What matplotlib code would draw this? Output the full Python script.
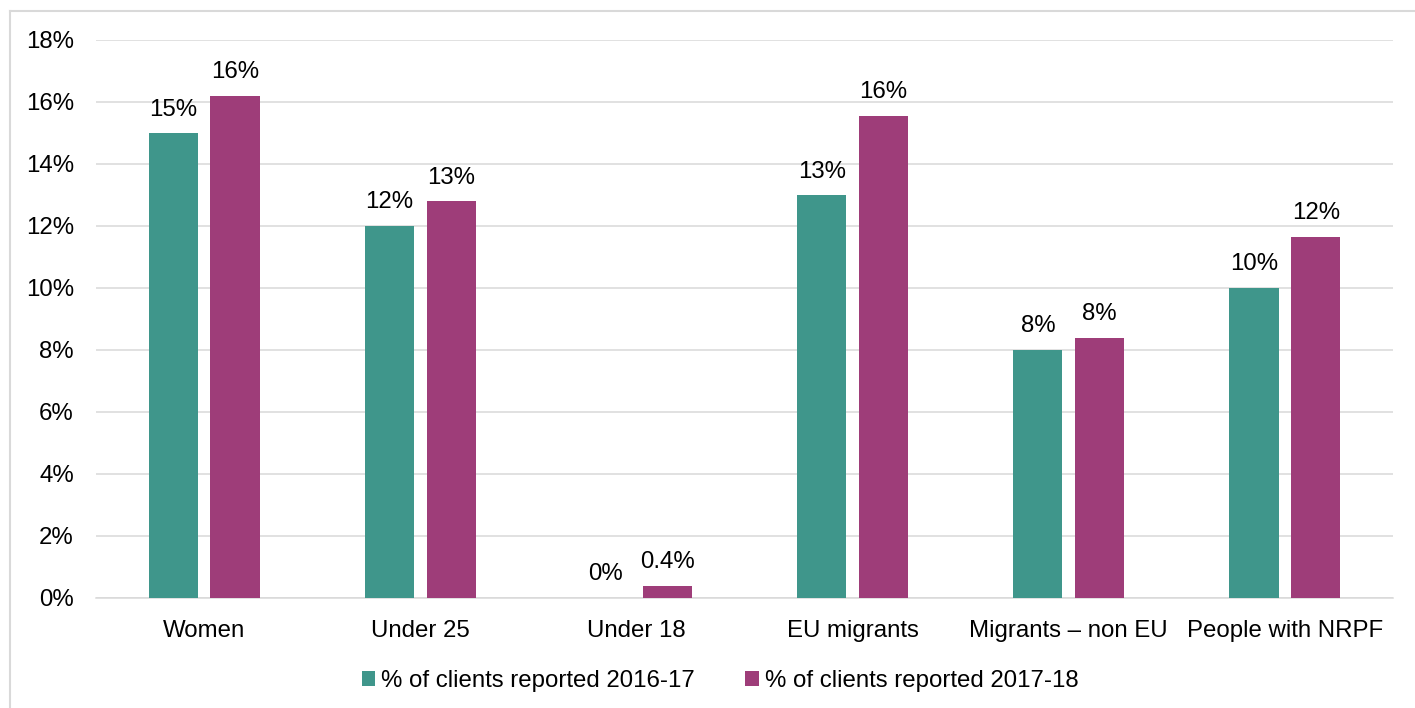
import matplotlib
matplotlib.use("Agg")
import matplotlib.pyplot as plt
from matplotlib.lines import Line2D
import numpy as np

categories = ["Women", "Under 25", "Under 18", "EU migrants", "Migrants \u2013 non EU", "People with NRPF"]
series_names = ["% of clients reported 2016-17", "% of clients reported 2017-18"]
values_2016 = [15.0, 12.0, 0.0, 13.0, 8.0, 10.0]
values_2017 = [16.2, 12.8, 0.4, 15.55, 8.4, 11.65]
labels_2016 = ["15%", "12%", "0%", "13%", "8%", "10%"]
labels_2017 = ["16%", "13%", "0.4%", "16%", "8%", "12%"]
yticks = [0, 2, 4, 6, 8, 10, 12, 14, 16, 18]
ytick_labels = ["0%", "2%", "4%", "6%", "8%", "10%", "12%", "14%", "16%", "18%"]

teal = "#3F968B"
purple = "#9E3D79"
grid_c = "#D9D9D9"

plt.rcParams['font.family'] = ['Liberation Sans', 'DejaVu Sans']
FS = 17.3

W, H = 1415, 708
fig = plt.figure(figsize=(W / 100, H / 100), dpi=100)
ax = fig.add_axes([96 / W, 1 - 598 / H, (1393 - 96) / W, (598 - 40) / H])

x = np.arange(len(categories))
bw = 0.227
off = 0.143
b1 = ax.bar(x - off, values_2016, bw, color=teal, label=series_names[0], zorder=3)
b2 = ax.bar(x + off, values_2017, bw, color=purple, label=series_names[1], zorder=3)

for bars, labs in ((b1, labels_2016), (b2, labels_2017)):
    for r, lab in zip(bars, labs):
        ax.annotate(lab, (r.get_x() + r.get_width() / 2, r.get_height()),
                    xytext=(0, 9), textcoords="offset points",
                    ha="center", va="bottom", fontsize=FS, color="black")

ax.set_xlim(-0.5, len(categories) - 0.5)
ax.set_ylim(0, 18)
ax.set_yticks(yticks)
ax.set_yticklabels(ytick_labels)
ax.set_xticks(x)
ax.set_xticklabels(categories)
ax.tick_params(axis="y", length=0, pad=16, labelsize=FS)
ax.tick_params(axis="x", length=0, pad=15.5, labelsize=FS)
ax.yaxis.grid(True, color=grid_c, linewidth=1.1, zorder=0)
ax.set_axisbelow(True)
for s in ("top", "right", "left"):
    ax.spines[s].set_visible(False)
ax.spines["bottom"].set_color(grid_c)
ax.spines["bottom"].set_linewidth(1.1)

leg = fig.legend(loc="center", bbox_to_anchor=(720 / W, 1 - 681 / H), ncol=2,
                 frameon=False, fontsize=FS, handlelength=0.55, handleheight=0.55,
                 handletextpad=0.25, columnspacing=2.1)

# chart border (light grey frame)
fig.add_artist(Line2D([10 / W, 10 / W], [0, 1 - 11 / H], transform=fig.transFigure,
                      color=grid_c, linewidth=1.5))
fig.add_artist(Line2D([10 / W, 1], [1 - 11 / H, 1 - 11 / H], transform=fig.transFigure,
                      color=grid_c, linewidth=1.5))

fig.savefig("out.png", dpi=100)
